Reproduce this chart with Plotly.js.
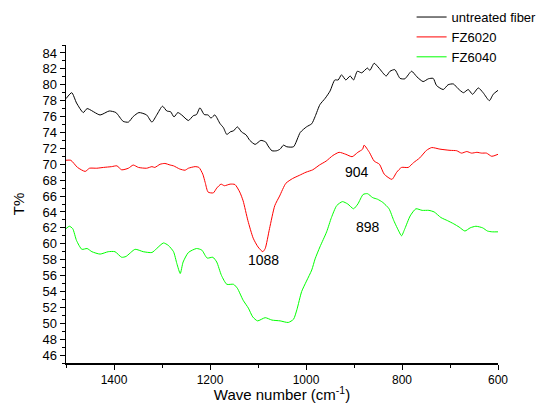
<!DOCTYPE html>
<html>
<head>
<meta charset="utf-8">
<script src="https://cdn.plot.ly/plotly-3.0.1.min.js"></script>
<style>html,body{margin:0;padding:0;background:#fff;}#chart{width:558px;height:403px;}</style>
</head>
<body>
<div id="chart"></div>
<script>
// untreated fiber
const blackX = [1500,1488,1478,1464,1456,1429,1410,1396,1381,1370,1360,1348,1332,1321,1311,1299,1290,1282,1275,1267,1259,1245,1235,1228,1221,1212,1204,1198,1190,1179,1172,1165,1157,1151,1143,1134,1125,1117,1106,1094,1084,1079,1071,1061,1054,1047,1040,1026,1012,999,988,981,971,960,950,940,933,926,917,908,901,893,884,872,867,858,848,833,825,815,804,794,780,769,756,745,735,728,714,704,693,683,672,662,653,641,631,618,610,600];
const blackY = [78.25,79.0,77.7,76.5,77.0,76.2,76.7,76.5,75.4,75.3,76.0,76.5,76.2,75.3,76.2,77.3,76.7,76.6,75.95,76.5,76.2,75.5,76.1,76.25,77.1,76.25,76.2,75.8,76.2,75.1,74.6,73.75,74.1,74.2,74.7,74.05,73.7,73.0,72.5,73.0,72.8,72.3,71.7,71.7,71.9,72.4,72.2,72.2,74.0,74.7,75.1,76.0,77.5,78.3,79.2,80.6,80.6,81.25,80.6,81.1,80.6,81.7,81.5,82.1,81.8,82.7,82.1,81.1,81.7,81.9,80.8,80.75,81.7,81.0,80.4,80.75,80.8,79.9,79.4,80.0,80.1,79.5,79.0,79.4,78.8,79.6,79.0,78.0,78.8,79.3];
// FZ6020
const redX = [1500,1490,1476,1460,1451,1436,1422,1405,1394,1384,1370,1360,1349,1332,1321,1315,1304,1294,1283,1276,1263,1252,1245,1231,1223,1215,1210,1204,1193,1186,1177,1170,1158,1148,1138,1131,1121,1110,1100,1090,1085,1076,1065,1055,1042,1028,1014,1000,986,972,958,944,931,917,904,892,882,879,868,858,847,837,821,811,801,787,776,763,749,738,721,700,686,676,665,655,644,634,624,613,600];
const redY = [70.5,70.5,69.6,69.1,69.5,69.5,69.6,69.7,69.8,69.3,69.5,69.9,69.6,69.5,69.7,69.6,70.0,70.1,69.9,69.8,69.4,69.25,69.5,69.7,69.6,68.75,67.7,66.5,66.4,67.0,67.5,67.3,67.5,67.45,66.5,65.4,62.9,60.7,59.6,59.0,59.4,61.9,64.8,66.0,67.6,68.2,68.6,69.0,69.3,69.9,70.4,71.1,71.5,71.25,70.95,71.5,71.9,72.4,71.5,70.4,70.0,68.75,68.1,69.0,69.6,69.6,70.2,70.8,71.75,72.1,71.9,71.75,71.7,71.4,71.6,71.4,71.5,71.4,71.4,71.0,71.25];
// FZ6040
const greenX = [1500,1493,1486,1478,1467,1456,1446,1429,1412,1398,1384,1375,1356,1339,1321,1311,1297,1287,1276,1269,1262,1256,1245,1228,1217,1206,1194,1186,1176,1165,1151,1143,1131,1120,1111,1101,1085,1071,1054,1037,1026,1019,1009,999,988,981,971,957,947,936,924,913,901,892,881,872,861,851,840,827,817,806,801,794,783,771,758,744,733,719,705,692,681,669,658,646,632,622,612,600];
const greenY = [61.9,62.2,61.9,60.4,59.3,59.4,59.0,58.7,59.0,59.0,58.3,58.4,59.3,59.0,58.9,59.4,60.1,59.8,59.0,57.5,56.25,57.7,58.9,59.4,59.2,58.2,58.3,57.7,56.0,54.9,54.9,54.4,52.9,51.9,50.8,50.3,50.7,50.4,50.3,50.1,50.5,51.7,54.0,55.3,56.7,58.1,59.6,61.5,63.3,64.8,65.3,65.0,64.4,65.0,66.2,66.3,65.8,65.6,65.2,64.4,62.9,61.5,61.0,61.9,63.5,64.4,64.2,64.2,64.0,63.3,62.9,62.5,62.1,61.6,62.0,62.2,62.0,61.6,61.5,61.5];

const seriesNames = ["untreated fiber", "FZ6020", "FZ6040"];
const peakLabels = ["1088", "904", "898"];
const peakX = [1088, 894, 871];
const peakY = [57.9, 69.0, 62.1];
const yTicks = [46,48,50,52,54,56,58,60,62,64,66,68,70,72,74,76,78,80,82,84];
const xTicks = [1400,1200,1000,800,600];

const font = "Arial, 'Liberation Sans', sans-serif";
const traces = [
  {x: blackX, y: blackY, name: seriesNames[0], mode: "lines", line: {color: "#000000", width: 1, shape: "spline", smoothing: 0.6}},
  {x: redX, y: redY, name: seriesNames[1], mode: "lines", line: {color: "#ff0000", width: 1, shape: "spline", smoothing: 0.6}},
  {x: greenX, y: greenY, name: seriesNames[2], mode: "lines", line: {color: "#00ff00", width: 1, shape: "spline", smoothing: 0.6}}
];
const layout = {
  width: 558, height: 403,
  margin: {l: 66, r: 60, t: 45, b: 40, autoexpand: false},
  paper_bgcolor: "#ffffff", plot_bgcolor: "#ffffff",
  font: {family: font, color: "#000000", size: 13},
  showlegend: true,
  legend: {x: 0.8, y: 1.135, xanchor: "left", yanchor: "top", font: {size: 13, family: font}, bgcolor: "rgba(0,0,0,0)", tracegroupgap: 0, itemwidth: 30},
  xaxis: {
    range: [1500, 600], tickvals: xTicks, ticktext: xTicks.map(String),
    ticks: "outside", ticklen: 5, tickwidth: 1, tickcolor: "#000",
    minor: {dtick: 100, tick0: 600, ticks: "outside", ticklen: 3, tickwidth: 1, tickcolor: "#000"},
    showline: true, linecolor: "#000", linewidth: 1.5, showgrid: false, zeroline: false,
    tickfont: {size: 12, family: font},
    title: {text: "Wave number (cm<sup>-1</sup>)", font: {size: 15, family: font}, standoff: 2}
  },
  yaxis: {
    range: [45, 85], tickvals: yTicks, ticktext: yTicks.map(String),
    ticks: "outside", ticklen: 5, tickwidth: 1, tickcolor: "#000",
    minor: {dtick: 1, tick0: 45, ticks: "outside", ticklen: 3, tickwidth: 1, tickcolor: "#000"},
    showline: true, linecolor: "#000", linewidth: 1.5, showgrid: false, zeroline: false,
    tickfont: {size: 13, family: font},
    title: {text: "T%", font: {size: 15, family: font}, standoff: 14}
  },
  annotations: peakLabels.map((t, i) => ({x: peakX[i], y: peakY[i], text: t, showarrow: false, font: {size: 14, family: font, color: "#000"}}))
};
Plotly.newPlot("chart", traces, layout, {displayModeBar: false, staticPlot: true});
</script>
</body>
</html>
